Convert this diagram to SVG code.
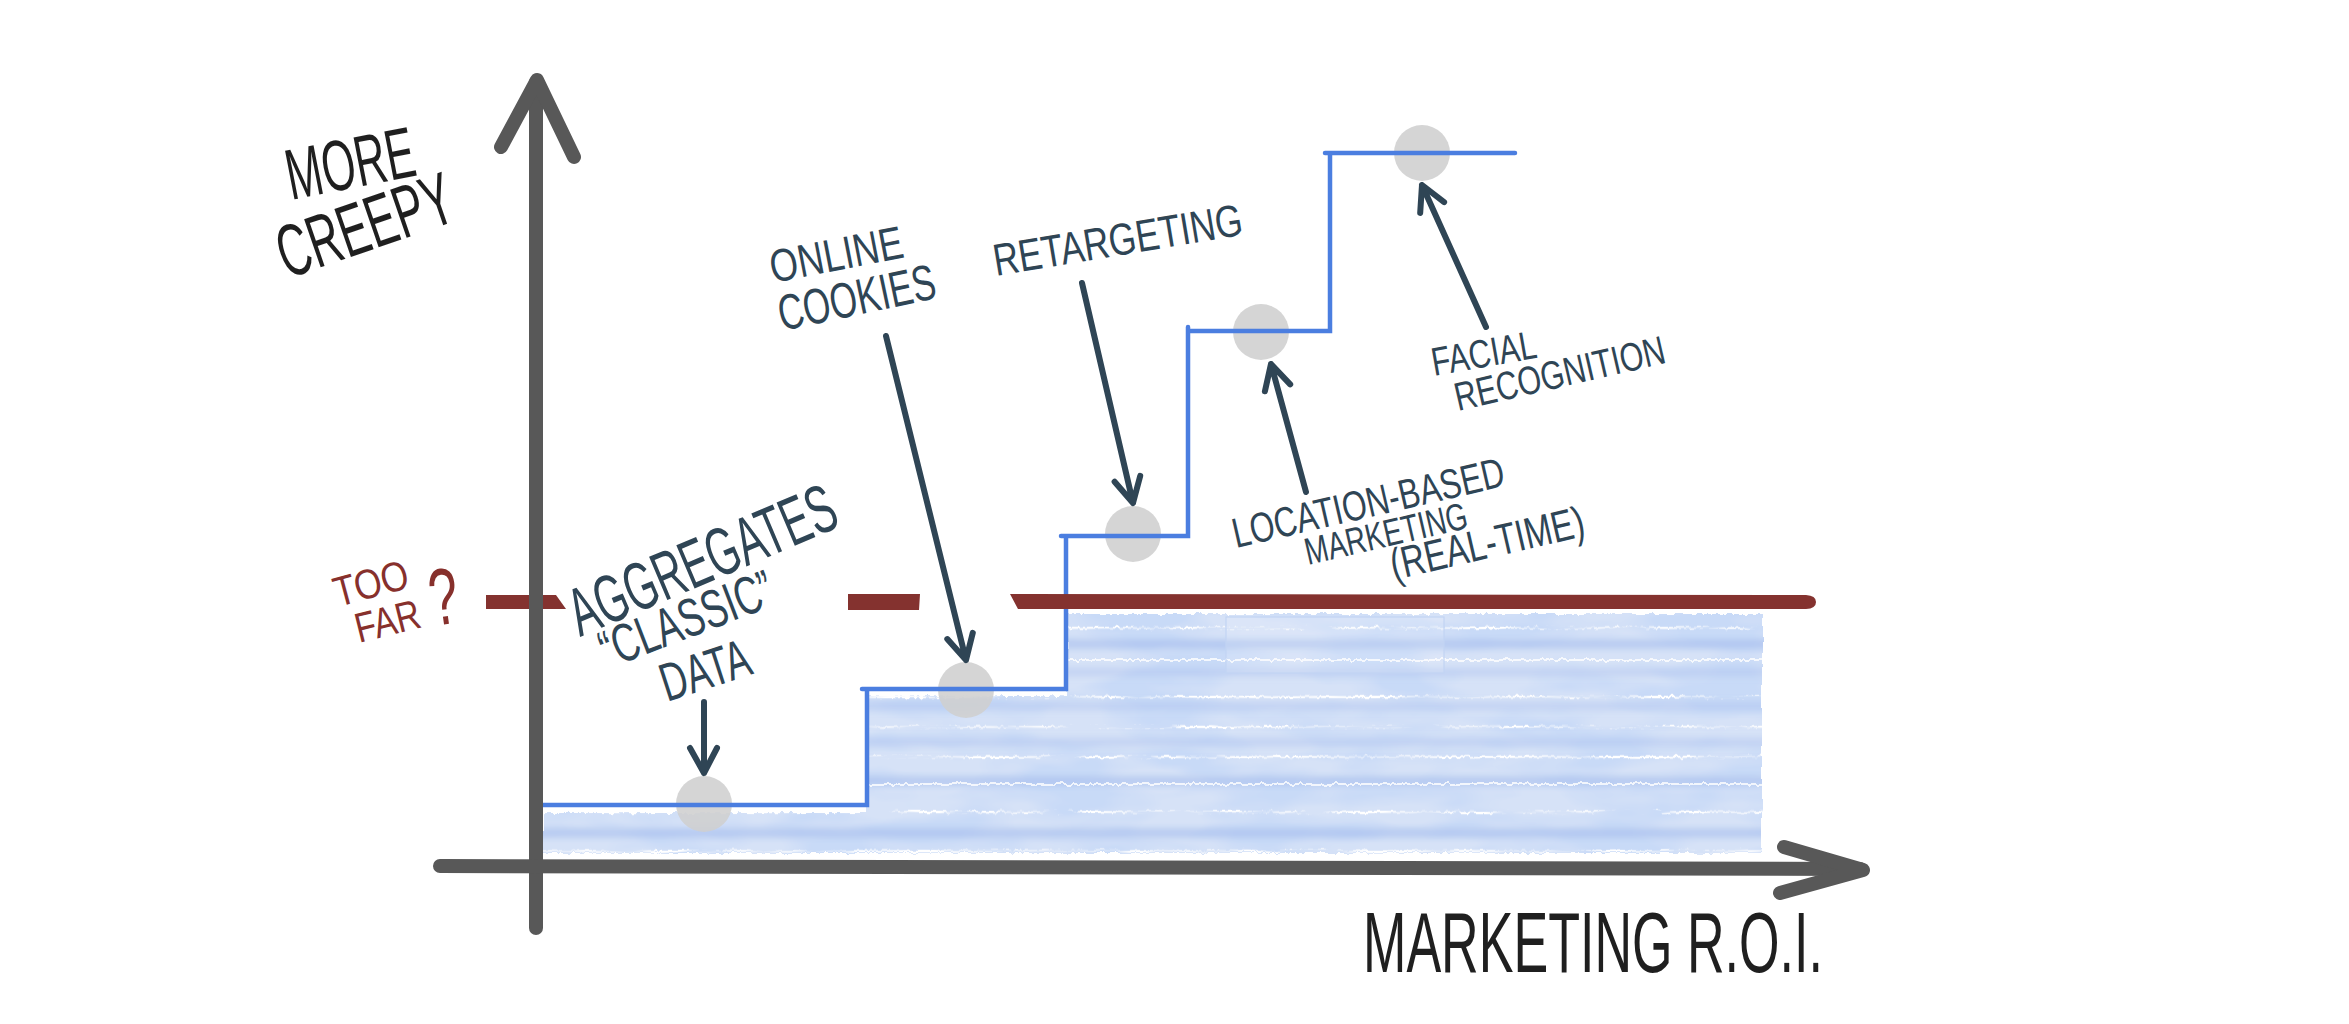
<svg xmlns="http://www.w3.org/2000/svg" width="2349" height="1024" viewBox="0 0 2349 1024">
<defs>
<style>
.t{font-family:"Liberation Sans","DejaVu Sans",sans-serif;}
.lbl{fill:#2f4555;}
.ink{fill:#1f1f1f;}
.redt{fill:#87302c;}
.arrow{fill:none;stroke:#2f4555;stroke-width:6;stroke-linecap:round;stroke-linejoin:round;}
.axis{fill:none;stroke:#585858;stroke-width:14;stroke-linecap:round;stroke-linejoin:round;}
.step{fill:none;stroke:#4b7ee0;stroke-width:4.5;stroke-linecap:round;stroke-linejoin:miter;}
.dot{fill:#cfcfcf;fill-opacity:0.88;}
.streak{stroke:#ffffff;stroke-width:2.5;fill:none;}
.band{stroke:#a3bbec;stroke-width:9;fill:none;opacity:0.6;}
.dash{fill:#84322f;}
</style>
<filter id="rough" filterUnits="userSpaceOnUse" x="500" y="570" width="1300" height="320">
<feTurbulence type="fractalNoise" baseFrequency="0.2 0.03" numOctaves="2" seed="4" result="t"/>
<feDisplacementMap in="SourceGraphic" in2="t" scale="6" xChannelSelector="G" yChannelSelector="R"/>
</filter>
<filter id="roughfade" filterUnits="userSpaceOnUse" x="500" y="570" width="1300" height="320">
<feTurbulence type="fractalNoise" baseFrequency="0.2 0.03" numOctaves="2" seed="4" result="t"/>
<feDisplacementMap in="SourceGraphic" in2="t" scale="6" xChannelSelector="G" yChannelSelector="R" result="d"/>
<feTurbulence type="fractalNoise" baseFrequency="0.02 0.2" numOctaves="2" seed="11" result="n"/>
<feColorMatrix in="n" type="matrix" values="0 0 0 0 1 0 0 0 0 1 0 0 0 0 1 0 0 0 3 -1.1" result="m"/>
<feComposite in="d" in2="m" operator="in"/>
</filter>
<filter id="blot" filterUnits="userSpaceOnUse" x="530" y="600" width="1240" height="265">
<feTurbulence type="fractalNoise" baseFrequency="0.009 0.028" numOctaves="3" seed="9"/>
<feColorMatrix type="matrix" values="0 0 0 0 0.58 0 0 0 0 0.70 0 0 0 0 0.93 0 0 0 3.2 -1.2"/>
</filter>
<filter id="soft" filterUnits="userSpaceOnUse" x="500" y="570" width="1300" height="320">
<feGaussianBlur stdDeviation="3"/>
</filter>
<mask id="fillMask" maskUnits="userSpaceOnUse" x="500" y="570" width="1300" height="320">
<path d="M543,813 L867,813 L867,696 L1067,696 L1067,614 L1762,614 L1762,853 L543,853 Z" fill="#ffffff" filter="url(#rough)"/>
</mask>
</defs>

<rect x="0" y="0" width="2349" height="1024" fill="#ffffff"/>

<g id="watercolor" mask="url(#fillMask)">
<rect x="530" y="600" width="1240" height="265" fill="#d6e2f7"/>
<rect x="530" y="600" width="1240" height="265" filter="url(#blot)"/>
<g filter="url(#soft)">
<path class="band" d="M530,644 H1770 M530,781 H1770 M530,833 H1770"/>
<path class="band" style="opacity:0.35" d="M530,706 H1770 M530,742 H1770 M530,672 H1770"/>
</g>
<g filter="url(#roughfade)">
<path class="streak" d="M530,628 H1770 M530,697 H1770 M530,727 H1770 M530,757 H1770 M530,812 H1770 M530,851 H1770"/>
</g>
<g filter="url(#rough)">
<path class="streak" style="stroke-width:2;opacity:0.8" d="M530,784 H1770 M530,660 H1770"/>
</g>
<rect x="1226" y="617" width="218" height="56" fill="#ffffff" fill-opacity="0.12" stroke="#c2d4f3" stroke-width="1.2"/>
</g>

<g id="node-dots">
<circle class="dot" cx="704" cy="804" r="28"/>
<circle class="dot" cx="966" cy="690" r="28"/>
<circle class="dot" cx="1133" cy="534" r="28"/>
<circle class="dot" cx="1261" cy="332" r="28"/>
<circle class="dot" cx="1422" cy="153" r="28"/>
</g>

<g id="step-line">
<path class="step" d="M540,805 H867 V689 M862,689 H1066 V536 M1061,536 H1188 V327 M1188,331 H1330 V153 M1325,153 H1515"/>
</g>

<g id="threshold">
<path class="dash" d="M486,595 L556,595 L566,609 L486,609 Z"/>
<path class="dash" d="M848,594 L920,594 L919,610 L848,610 Z"/>
<path class="dash" d="M1010,594 L1806,595 Q1816,595.5 1816,602 Q1816,608.5 1806,609 L1018,609 Z"/>
<g id="node-too-far">
<text class="t redt" font-size="42" transform="translate(338,607) rotate(-15)" textLength="76" lengthAdjust="spacingAndGlyphs">TOO</text>
<text class="t redt" font-size="42" transform="translate(359,643) rotate(-14)" textLength="66" lengthAdjust="spacingAndGlyphs">FAR</text>
<text class="t redt" font-size="80" transform="translate(433,626) rotate(-8)" textLength="29" lengthAdjust="spacingAndGlyphs">?</text>
</g>
</g>

<g id="axes">
<path class="axis" d="M536,82 V928"/>
<path class="axis" d="M501,147 L537,80 L574,157"/>
<path class="axis" d="M440,866 L1860,869"/>
<path class="axis" d="M1784,847 L1863,870 L1780,893"/>
</g>

<g id="node-y-label">
<text class="t ink" font-size="72" transform="translate(291,200) rotate(-11)" textLength="130" lengthAdjust="spacingAndGlyphs">MORE</text>
<text class="t ink" font-size="74" transform="translate(287,279) rotate(-19)" textLength="182" lengthAdjust="spacingAndGlyphs">CREEPY</text>
</g>

<g id="node-x-label">
<text class="t ink" font-size="86" x="1363" y="972" textLength="460" lengthAdjust="spacingAndGlyphs">MARKETING R.O.I.</text>
</g>

<g id="node-aggregates">
<text class="t lbl" font-size="68" transform="translate(580,637) rotate(-23)" textLength="285" lengthAdjust="spacingAndGlyphs">AGGREGATES</text>
<text class="t lbl" font-size="54" transform="translate(608,669) rotate(-21)" textLength="182" lengthAdjust="spacingAndGlyphs">“CLASSIC”</text>
<text class="t lbl" font-size="54" transform="translate(667,702) rotate(-18)" textLength="92" lengthAdjust="spacingAndGlyphs">DATA</text>
</g>

<g id="node-online-cookies">
<text class="t lbl" font-size="46" transform="translate(773,283) rotate(-11)" textLength="135" lengthAdjust="spacingAndGlyphs">ONLINE</text>
<text class="t lbl" font-size="50" transform="translate(782,331) rotate(-12)" textLength="160" lengthAdjust="spacingAndGlyphs">COOKIES</text>
</g>

<g id="node-retargeting">
<text class="t lbl" font-size="45" transform="translate(996,276) rotate(-9.5)" textLength="252" lengthAdjust="spacingAndGlyphs">RETARGETING</text>
</g>

<g id="node-location">
<text class="t lbl" font-size="42" transform="translate(1236,548) rotate(-13)" textLength="278" lengthAdjust="spacingAndGlyphs">LOCATION-BASED</text>
<text class="t lbl" font-size="38" transform="translate(1308,565) rotate(-13)" textLength="166" lengthAdjust="spacingAndGlyphs">MARKETING</text>
<text class="t lbl" font-size="44" transform="translate(1394,580) rotate(-13)" textLength="198" lengthAdjust="spacingAndGlyphs">(REAL-TIME)</text>
</g>

<g id="node-facial">
<text class="t lbl" font-size="40" transform="translate(1434,376) rotate(-10)" textLength="106" lengthAdjust="spacingAndGlyphs">FACIAL</text>
<text class="t lbl" font-size="40" transform="translate(1458,411) rotate(-13)" textLength="215" lengthAdjust="spacingAndGlyphs">RECOGNITION</text>
</g>

<g id="connectors">
<path class="arrow" d="M704,702 L704,773 M690,748 L704,773 L717,748"/>
<path class="arrow" d="M886,336 L966,660 M947.3,639.1 L966,660 L972.8,632.8"/>
<path class="arrow" d="M1082,283 L1133,503 M1114.6,481.8 L1133,503 L1140.2,475.9"/>
<path class="arrow" d="M1306,492 L1271,364 M1264.9,391.3 L1271,364 L1290.2,384.4"/>
<path class="arrow" d="M1486,327 L1422,185 M1420.2,212.9 L1422,185 L1444.1,202.1"/>
</g>
</svg>
